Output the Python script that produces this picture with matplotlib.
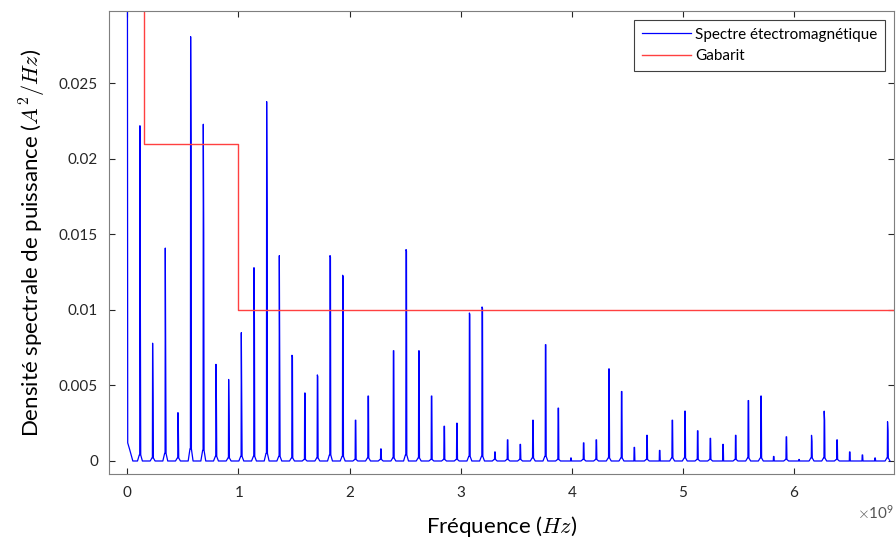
import numpy as np
import matplotlib.pyplot as plt
from matplotlib.ticker import ScalarFormatter

# raies du spectre : frequence (GHz), amplitude crete, amplitude du 2e echantillon
freq_raies = [0.000, 0.114, 0.228, 0.342, 0.456, 0.570, 0.684, 0.798, 0.912, 1.026,
              1.140, 1.254, 1.368, 1.482, 1.596, 1.710, 1.824, 1.938, 2.052, 2.166,
              2.280, 2.394, 2.508, 2.622, 2.736, 2.850, 2.964, 3.078, 3.192, 3.306,
              3.420, 3.534, 3.648, 3.762, 3.876, 3.990, 4.104, 4.218, 4.332, 4.446,
              4.560, 4.674, 4.788, 4.902, 5.016, 5.130, 5.244, 5.358, 5.472, 5.586,
              5.700, 5.814, 5.928, 6.042, 6.156, 6.270, 6.384, 6.498, 6.612, 6.726,
              6.840]
crete = [0.0500, 0.0222, 0.0078, 0.0141, 0.0032, 0.0281, 0.0223, 0.0064, 0.0054, 0.0085,
         0.0128, 0.0238, 0.0136, 0.0070, 0.0045, 0.0057, 0.0136, 0.0123, 0.0027, 0.0043,
         0.0008, 0.0073, 0.0140, 0.0073, 0.0043, 0.0023, 0.0025, 0.0098, 0.0102, 0.0006,
         0.0014, 0.0011, 0.0027, 0.0077, 0.0035, 0.0002, 0.0012, 0.0014, 0.0061, 0.0046,
         0.0009, 0.0017, 0.0007, 0.0027, 0.0033, 0.0020, 0.0015, 0.0011, 0.0017, 0.0040,
         0.0043, 0.0003, 0.0016, 0.0001, 0.0017, 0.0033, 0.0014, 0.0006, 0.0004, 0.0002,
         0.0026]
second = [0.0012, 0.0079, 0.0042, 0.0070, 0.0020, 0.0209, 0.0151, 0.0040, 0.0030, 0.0034,
          0.0092, 0.0166, 0.0064, 0.0069, 0.0045, 0.0056, 0.0135, 0.0122, 0.0027, 0.0043,
          0.0008, 0.0073, 0.0139, 0.0073, 0.0043, 0.0023, 0.0025, 0.0097, 0.0101, 0.0006,
          0.0014, 0.0011, 0.0027, 0.0077, 0.0035, 0.0002, 0.0012, 0.0014, 0.0061, 0.0046,
          0.0009, 0.0017, 0.0007, 0.0027, 0.0033, 0.0020, 0.0015, 0.0011, 0.0017, 0.0040,
          0.0043, 0.0003, 0.0016, 0.0001, 0.0013, 0.0027, 0.0014, 0.0006, 0.0004, 0.0002,
          0.0020]
# pied des raies (petites bosses au niveau du bruit)
pied = [0.0009, 0.0004, 0.0002, 0.0005, 0.0002, 0.0008, 0.0007, 0.0003, 0.0002, 0.0003,
        0.0003, 0.0005, 0.0003, 0.0002, 0.0001, 0.0002, 0.0004, 0.0003, 0.0001, 0.0002,
        0.0001, 0.0002, 0.0004, 0.0002, 0.0001, 0.0001, 0.0001, 0.0003, 0.0003, 0.0001,
        0.0001, 0.0001, 0.0002, 0.0003, 0.0001, 0.0000, 0.0001, 0.0001, 0.0002, 0.0002,
        0.0000, 0.0001, 0.0000, 0.0002, 0.0002, 0.0001, 0.0001, 0.0000, 0.0001, 0.0002,
        0.0002, 0.0000, 0.0001, 0.0000, 0.0002, 0.0002, 0.0001, 0.0000, 0.0000, 0.0000,
        0.0002]

# gabarit (GHz, A^2/Hz)
gab_f = [0.15, 0.15, 1.0, 1.0, 6.9]
gab_v = [0.05, 0.021, 0.021, 0.01, 0.01]

# construction de la trace du spectre
fx, fy = [], []
for f, c, s, p in zip(freq_raies, crete, second, pied):
    if f > 0:
        fx += [f - 0.022, f - 0.006, f - 0.002]
        fy += [0.0, p, p]
        fx += [f, f + 0.004, f + 0.007, f + 0.022]
        fy += [c, s, p, 0.0]
    else:
        fx += [f, f + 0.004, f + 0.02, f + 0.05]
        fy += [c, s, 0.0008, 0.0]
fx = np.array(fx) * 1e9
fy = np.array(fy)

plt.rcParams['font.family'] = ['Lato', 'DejaVu Sans']
plt.rcParams['mathtext.fontset'] = 'cm'

fig = plt.figure(figsize=(8.96, 5.42), dpi=100)
ax = fig.add_axes([0.1217, 0.1255, 0.8763, 0.8542])

ax.plot(fx, fy, color='#0000ff', lw=0.9, label='Spectre étectromagnétique')
ax.plot(np.array(gab_f) * 1e9, gab_v, color='#ff4040', lw=1.0, label='Gabarit')

ax.set_xlim(-0.164e9, 6.9e9)
ax.set_ylim(-0.00086, 0.0298)
ax.set_xticks(np.arange(0, 7) * 1e9)
ax.set_yticks([0, 0.005, 0.01, 0.015, 0.02, 0.025])
ax.set_yticklabels(['0', '0.005', '0.01', '0.015', '0.02', '0.025'])

fmt = ScalarFormatter(useMathText=True)
fmt.set_powerlimits((0, 0))
ax.xaxis.set_major_formatter(fmt)

ax.tick_params(direction='in', top=True, right=True, length=4,
               labelsize=11, colors='#262626', pad=8)
for sp in ax.spines.values():
    sp.set_color('#7f7f7f')
    sp.set_linewidth(0.8)
ax.xaxis.get_offset_text().set_color('#555555')
ax.xaxis.get_offset_text().set_fontsize(11)

ax.set_xlabel('Fréquence ($Hz$)', fontsize=16, labelpad=10)
ax.set_ylabel('Densité spectrale de puissance ($A^2/Hz$)', fontsize=16, labelpad=8)

leg = ax.legend(loc='upper right', fontsize=11, fancybox=False, framealpha=1,
                edgecolor='#404040', borderaxespad=0.6, handlelength=3.2,
                handletextpad=0.3, labelspacing=0.5, borderpad=0.5)
leg.get_frame().set_linewidth(0.8)

fig.savefig('out.png', dpi=100)
